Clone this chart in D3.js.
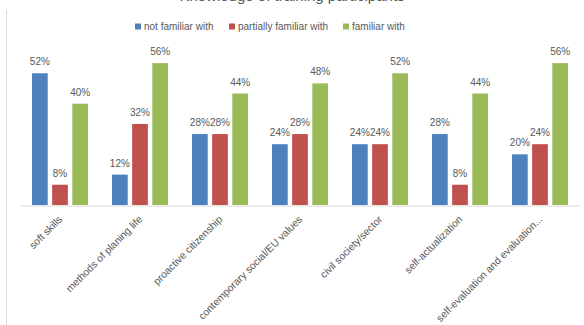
<!DOCTYPE html>
<html><head><meta charset="utf-8">
<script src="https://cdn.jsdelivr.net/npm/d3@7"></script>
<style>html,body{margin:0;padding:0;background:#fff;overflow:hidden}svg{display:block}</style>
</head><body>
<svg id="chart" width="584" height="325"></svg>
<script>
const categories = ["soft skills","methods of planing life","proactive citizenship","contemporary social/EU values","civil society/sector","self-actualization","self-evaluation and evaluation..."];
const seriesNames = ["not familiar with","partially familiar with","familiar with"];
const notFamiliar = [52,12,28,24,24,28,20];
const partiallyFamiliar = [8,32,28,28,24,8,24];
const familiar = [40,56,44,48,52,44,56];
const colors = ["#4F81BD","#C0504D","#9BBB59"];
const title = "Knowledge of training participants";

const seriesValues = [notFamiliar, partiallyFamiliar, familiar];
const svg = d3.select("#chart");
const font = "'Liberation Sans', Arial, sans-serif";
const txt = "#595959";

// outer border (left edge visible)
svg.append("line").attr("x1",6.5).attr("x2",6.5).attr("y1",10).attr("y2",325)
  .attr("stroke","#d9d9d9").attr("stroke-width",1);

// title (clipped at top, as in the reference)
svg.append("text").attr("x",292).attr("y",0.5).attr("text-anchor","middle")
  .attr("font-family",font).attr("font-size",15).attr("fill",txt).text(title);

const x0 = d3.scaleBand().domain(categories).range([20,580]).paddingInner(0).paddingOuter(0);
const x1 = d3.scaleBand().domain(seriesNames).range([12,68]).paddingInner(0.22).paddingOuter(0);
const y = d3.scaleLinear().domain([0,60]).range([205,53]);

const groups = svg.append("g").selectAll("g").data(categories).join("g")
  .attr("transform", c => `translate(${x0(c)},0)`);

groups.each(function(c, i){
  const g = d3.select(this);
  seriesNames.forEach((s, j) => {
    const v = seriesValues[j][i];
    g.append("rect").attr("x", x1(s)).attr("width", x1.bandwidth())
      .attr("y", y(v)).attr("height", y(0)-y(v)).attr("fill", colors[j]);
    g.append("text").attr("x", x1(s)+x1.bandwidth()/2).attr("y", y(v)-8)
      .attr("text-anchor","middle").attr("font-family",font).attr("font-size",10)
      .attr("fill",txt).text(v+"%");
  });
});

// baseline axis
const xAxis = svg.append("g").attr("transform","translate(0,205.5)")
  .call(d3.axisBottom(x0).tickSize(0).tickFormat(""));
xAxis.select(".domain").attr("stroke","#d9d9d9");

// category labels
svg.append("g").selectAll("text").data(categories).join("text")
  .attr("transform", c => `translate(${x0(c)+x0.bandwidth()/2+3},220) rotate(-45)`)
  .attr("text-anchor","end").attr("font-family",font).attr("font-size",10.3)
  .attr("fill",txt).text(c => c);

// legend
const legendX = [135, 229, 343];
const lg = svg.append("g").selectAll("g").data(seriesNames).join("g")
  .attr("transform",(d,i)=>`translate(${legendX[i]},23.5)`);
lg.append("rect").attr("width",6).attr("height",6).attr("fill",(d,i)=>colors[i]);
lg.append("text").attr("x",9).attr("y",6.5).attr("font-family",font).attr("font-size",10)
  .attr("fill",txt).text(d=>d);
</script>
</body></html>
